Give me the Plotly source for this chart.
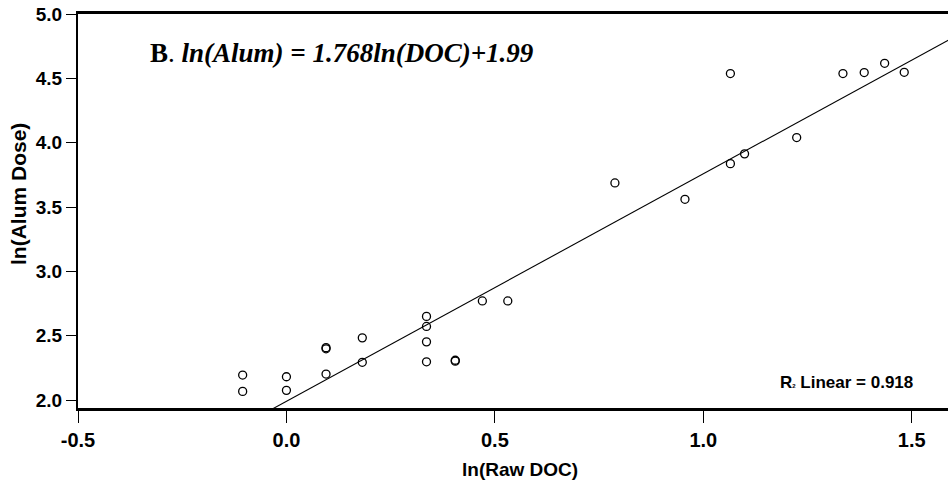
import plotly.graph_objects as go

# Data
ln_doc = [-0.105, -0.105, 0.0, 0.0, 0.095, 0.095, 0.095, 0.182, 0.182,
          0.336, 0.336, 0.336, 0.336, 0.405, 0.405, 0.470, 0.531,
          0.788, 0.956, 1.065, 1.065, 1.099, 1.224, 1.335, 1.386, 1.435, 1.482]
ln_alum = [2.194, 2.067, 2.181, 2.075, 2.398, 2.407, 2.202, 2.483, 2.293,
           2.650, 2.572, 2.452, 2.297, 2.302, 2.309, 2.770, 2.770,
           3.687, 3.560, 4.537, 3.837, 3.913, 4.040, 4.537, 4.545, 4.617, 4.547]

slope = 1.768
intercept = 1.99
fit_x = [-0.5, 1.6]

x_tickvals = [-0.5, 0.0, 0.5, 1.0, 1.5]
x_ticktext = ["-0.5", "0.0", "0.5", "1.0", "1.5"]
y_tickvals = [2.0, 2.5, 3.0, 3.5, 4.0, 4.5, 5.0]
y_ticktext = ["2.0", "2.5", "3.0", "3.5", "4.0", "4.5", "5.0"]

fit_y = [slope * v + intercept for v in fit_x]

fig = go.Figure()
fig.add_trace(go.Scatter(x=fit_x, y=fit_y, mode="lines",
                         line=dict(color="black", width=1.1),
                         hoverinfo="skip", showlegend=False))
fig.add_trace(go.Scatter(x=ln_doc, y=ln_alum, mode="markers",
                         marker=dict(symbol="circle-open", size=8, color="black",
                                     line=dict(width=1.3)),
                         showlegend=False))

sans = "Liberation Sans, Arial, sans-serif"

fig.update_layout(
    width=948, height=490,
    margin=dict(l=78, r=0, t=14, b=82),
    paper_bgcolor="white", plot_bgcolor="white",
    showlegend=False,
    xaxis=dict(range=[-0.5, 1.587], tickvals=x_tickvals, ticktext=x_ticktext,
               showgrid=False, zeroline=False,
               showline=True, linecolor="black", linewidth=2.5, mirror=True,
               ticks="outside", ticklen=12, tickwidth=1.2, tickcolor="black",
               tickfont=dict(family=sans, size=20, color="black", weight="bold")),
    yaxis=dict(range=[1.938, 5.0], tickvals=y_tickvals, ticktext=y_ticktext,
               showgrid=False, zeroline=False,
               showline=True, linecolor="black", linewidth=2,
               ticks="outside", ticklen=10, tickwidth=1.2, tickcolor="black",
               tickfont=dict(family=sans, size=19, color="black", weight="bold")),
    annotations=[
        dict(text="<b>B</b>. <b><i>ln(Alum) = 1.768ln(DOC)+1.99</i></b>",
             xref="paper", yref="paper", x=0.080, y=0.901,
             xanchor="left", yanchor="middle", showarrow=False,
             font=dict(family="Liberation Serif, Times New Roman, serif", size=27, color="black")),
        dict(text="<b>R<span style='font-size:6px'>2</span> Linear = 0.918</b>",
             xref="paper", yref="paper", x=0.962, y=0.064,
             xanchor="right", yanchor="middle", showarrow=False,
             font=dict(family=sans, size=17, color="black")),
        dict(text="<b>ln(Alum Dose)</b>",
             xref="paper", yref="paper", x=-0.069, y=0.543, textangle=-90,
             xanchor="center", yanchor="middle", showarrow=False,
             font=dict(family=sans, size=21, color="black")),
        dict(text="<b>ln(Raw DOC)</b>",
             xref="paper", yref="paper", x=0.508, y=-0.157,
             xanchor="center", yanchor="middle", showarrow=False,
             font=dict(family=sans, size=19, color="black")),
    ],
)

fig.write_html("out.html")
